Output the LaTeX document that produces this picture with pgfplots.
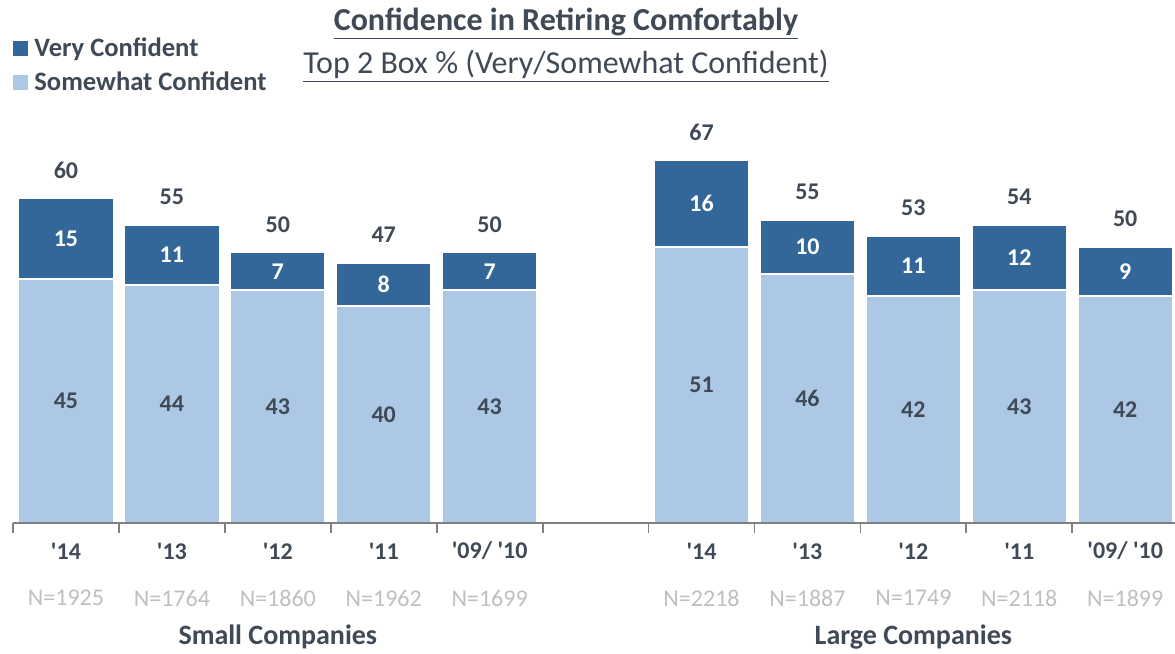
\documentclass[border=0pt]{standalone}
\usepackage{pgfplots}
\pgfplotsset{compat=1.18}
\usepackage{pgfplotstable}
\usepackage{fontspec}
\setmainfont{Carlito}
\definecolor{dk}{RGB}{52,103,153}
\definecolor{lt}{RGB}{173,200,228}
\definecolor{tx}{RGB}{64,74,86}
\definecolor{ng}{RGB}{191,191,191}
\definecolor{axc}{RGB}{128,128,128}
\newcommand\q{\textquotesingle}
\pgfplotstableread{
x s v t n
0 45 15 60 1925
1 44 11 55 1764
2 43 7 50 1860
3 40 8 47 1962
4 43 7 50 1699
6 51 16 67 2218
7 46 10 55 1887
8 42 11 53 1749
9 43 12 54 2118
10 42 9 50 1899
}\data
\begin{document}
\begin{tikzpicture}
\useasboundingbox (0,0) rectangle (587.5pt,327pt);
\begin{axis}[
  at={(6.5pt,65.5pt)}, anchor=south west,
  scale only axis, width=581pt, height=189.5pt,
  xmin=-0.5, xmax=10.47, ymin=0, ymax=70,
  clip=false, axis on top,
  axis x line=bottom, axis y line=none,
  x axis line style={axc, line width=0.9pt, -},
  xtick={0,1,2,3,4,6,7,8,9,10},
  xticklabels={\q14,\q13,\q12,\q11,\q09/ \q10,\q14,\q13,\q12,\q11,\q09/ \q10},
  major tick length=0pt,
  minor xtick={-0.5,0.5,1.5,2.5,3.5,4.5,5.5,6.5,7.5,8.5,9.5},
  minor tick length=5pt, tick align=outside,
  minor tick style={axc, line width=0.9pt},
  xticklabel style={font=\fontsize{12}{14}\selectfont\bfseries, text=tx, anchor=center, yshift=-14pt},
  ytick=\empty,
  legend style={at={(0,1)}, anchor=north west, xshift=0pt, yshift=55pt, draw=none, fill=none,
    inner sep=0pt, font=\fontsize{13.3}{15}\selectfont\bfseries, text=tx, row sep=3.5pt,
    nodes={inner sep=1.5pt}},
  legend cell align=left,
]
\addplot[ybar, bar width=0.9, bar shift=0pt, fill=dk, draw=white, line width=1pt,
  legend image code/.code={\fill[dk] (0.5pt,-3.25pt) rectangle (7pt,3.25pt);},
  point meta=explicit symbolic, nodes near coords={\pgfplotspointmeta},
  every node near coord/.style={anchor=center, yshift=14pt, font=\fontsize{12}{14}\selectfont\bfseries, text=tx}]
  table[x=x, y expr=\thisrow{s}+\thisrow{v}, meta=t]{\data};
\addlegendentry{\hspace{1.5pt}Very Confident}
\addplot[ybar, bar width=0.9, bar shift=0pt, fill=lt, draw=white, line width=1pt,
  legend image code/.code={\fill[lt] (0.5pt,-3.25pt) rectangle (7pt,3.25pt);}]
  table[x=x, y=s]{\data};
\addlegendentry{\hspace{1.5pt}Somewhat Confident}
\addplot[forget plot, only marks, mark=*, mark size=0pt, mark options={draw=none, fill=none},
  point meta=explicit symbolic, nodes near coords={\pgfplotspointmeta},
  every node near coord/.style={anchor=center, font=\fontsize{12}{14}\selectfont\bfseries, text=tx}]
  table[x=x, y expr=\thisrow{s}/2, meta=s]{\data};
\addplot[forget plot, only marks, mark=*, mark size=0pt, mark options={draw=none, fill=none},
  point meta=explicit symbolic, nodes near coords={\pgfplotspointmeta},
  every node near coord/.style={anchor=center, font=\fontsize{12}{14}\selectfont\bfseries, text=white}]
  table[x=x, y expr=\thisrow{s}+\thisrow{v}/2, meta=v]{\data};
\addplot[forget plot, only marks, mark=*, mark size=0pt, mark options={draw=none, fill=none},
  point meta=explicit symbolic, nodes near coords={N=\pgfplotspointmeta},
  every node near coord/.style={anchor=center, yshift=-37.5pt, font=\fontsize{12}{14}\selectfont, text=ng}]
  table[x=x, y expr=0, meta=n]{\data};
\node[font=\fontsize{14}{16}\selectfont\bfseries, text=tx] at (axis cs:2,0) [yshift=-57pt] {Small Companies};
\node[font=\fontsize{14}{16}\selectfont\bfseries, text=tx] at (axis cs:8,0) [yshift=-57pt] {Large Companies};
\end{axis}
\node[font=\fontsize{16}{18}\selectfont\bfseries, text=tx] at (283pt,315pt) {\underline{Confidence in Retiring Comfortably}};
\node[font=\fontsize{16}{18}\selectfont, text=tx] at (283pt,294pt) {\underline{Top 2 Box \% (Very/Somewhat Confident)}};
\end{tikzpicture}
\end{document}
